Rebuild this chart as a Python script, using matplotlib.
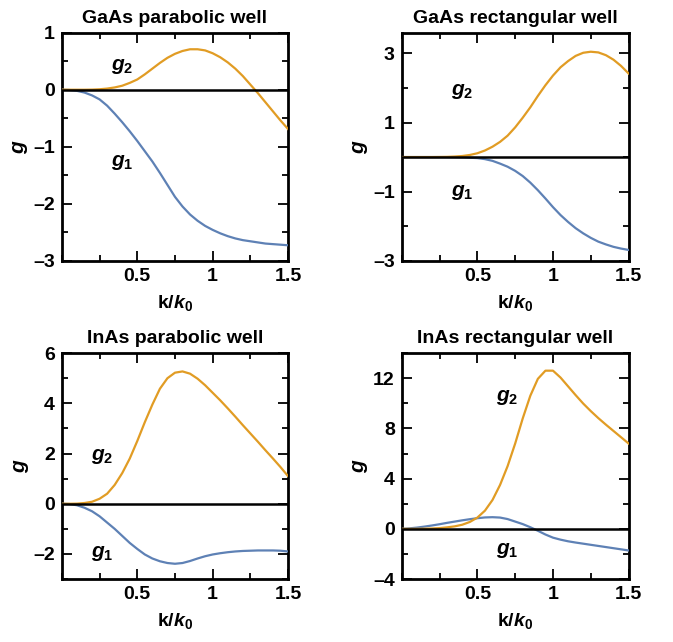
import matplotlib
matplotlib.use('Agg')
import matplotlib.pyplot as plt
from matplotlib.ticker import MultipleLocator, FixedLocator

plt.rcParams['font.family'] = ['Liberation Sans', 'DejaVu Sans']
plt.rcParams['font.weight'] = 'bold'
plt.rcParams['axes.labelweight'] = 'bold'
plt.rcParams['mathtext.fontset'] = 'custom'
plt.rcParams['mathtext.rm'] = 'Liberation Sans:bold'
plt.rcParams['mathtext.it'] = 'Liberation Sans:italic:bold'
plt.rcParams['mathtext.bf'] = 'Liberation Sans:bold'

BLUE = '#5E81B5'
ORANGE = '#E19C24'

k = [0, .05, .1, .15, .2, .25, .3, .35, .4, .45, .5, .55, .6, .65, .7, .75,
     .8, .85, .9, .95, 1, 1.05, 1.1, 1.15, 1.2, 1.25, 1.3, 1.35, 1.4, 1.45, 1.5]

# GaAs parabolic well
gaas_par_g1 = [0, -0.005, -0.02, -0.05, -0.1, -0.17, -0.28, -0.42, -0.57, -0.73, -0.9,
               -1.08, -1.26, -1.46, -1.67, -1.88, -2.05, -2.19, -2.3, -2.39, -2.46, -2.52,
               -2.57, -2.61, -2.64, -2.66, -2.68, -2.7, -2.71, -2.72, -2.73]
gaas_par_g2 = [0, 0, 0, 0, 0.002, 0.008, 0.02, 0.04, 0.07, 0.12, 0.18, 0.27, 0.37, 0.47,
               0.56, 0.63, 0.68, 0.71, 0.71, 0.69, 0.64, 0.57, 0.48, 0.37, 0.24, 0.09,
               -0.06, -0.22, -0.38, -0.54, -0.69]

# GaAs rectangular well
gaas_rect_g1 = [0, 0, 0, 0, 0, 0, -0.002, -0.005, -0.01, -0.02, -0.03, -0.06, -0.11,
                -0.19, -0.28, -0.4, -0.55, -0.74, -0.96, -1.2, -1.45, -1.68, -1.88, -2.06,
                -2.21, -2.34, -2.45, -2.53, -2.6, -2.65, -2.69]
gaas_rect_g2 = [0, 0, 0, 0, 0, 0.002, 0.006, 0.015, 0.03, 0.06, 0.11, 0.19, 0.3, 0.44,
                0.62, 0.86, 1.14, 1.44, 1.77, 2.08, 2.36, 2.6, 2.78, 2.93, 3.02, 3.05,
                3.03, 2.95, 2.82, 2.64, 2.42]

# InAs parabolic well
inas_par_g1 = [0, -0.01, -0.06, -0.16, -0.3, -0.5, -0.75, -1.0, -1.28, -1.56, -1.8,
               -2.02, -2.18, -2.29, -2.36, -2.39, -2.36, -2.28, -2.18, -2.09, -2.02,
               -1.97, -1.93, -1.9, -1.88, -1.87, -1.86, -1.86, -1.86, -1.87, -1.9]
inas_par_g2 = [0, 0, 0.005, 0.03, 0.08, 0.2, 0.4, 0.75, 1.22, 1.8, 2.5, 3.25, 3.95, 4.58,
               5.0, 5.22, 5.27, 5.18, 4.98, 4.72, 4.42, 4.12, 3.8, 3.47, 3.13, 2.8,
               2.47, 2.13, 1.8, 1.46, 1.1]

# InAs rectangular well
inas_rect_g1 = [0, 0.04, 0.1, 0.18, 0.27, 0.37, 0.48, 0.58, 0.68, 0.77, 0.85, 0.91, 0.93,
                0.9, 0.78, 0.58, 0.38, 0.13, -0.15, -0.45, -0.7, -0.86, -0.99, -1.09,
                -1.18, -1.27, -1.36, -1.45, -1.54, -1.63, -1.72]
inas_rect_g2 = [0, 0, 0, 0.01, 0.03, 0.06, 0.12, 0.2, 0.33, 0.55, 0.9, 1.45, 2.3, 3.5,
                5.0, 6.8, 8.8, 10.6, 11.95, 12.6, 12.6, 12.05, 11.35, 10.65, 9.98,
                9.38, 8.82, 8.3, 7.8, 7.3, 6.8]

panels = [
    dict(title='GaAs parabolic well', g1=gaas_par_g1, g2=gaas_par_g2,
         ylim=(-3, 1), major=[-3, -2, -1, 0, 1], minor=0.5,
         g2_pos=(0.4, 0.4), g1_pos=(0.4, -1.28)),
    dict(title='GaAs rectangular well', g1=gaas_rect_g1, g2=gaas_rect_g2,
         ylim=(-3, 3.6), major=[-3, -1, 1, 3], minor=1,
         g2_pos=(0.4, 1.9), g1_pos=(0.4, -1.03)),
    dict(title='InAs parabolic well', g1=inas_par_g1, g2=inas_par_g2,
         ylim=(-3, 6), major=[-2, 0, 2, 4, 6], minor=1,
         g2_pos=(0.27, 1.9), g1_pos=(0.27, -2.0)),
    dict(title='InAs rectangular well', g1=inas_rect_g1, g2=inas_rect_g2,
         ylim=(-4, 14), major=[-4, 0, 4, 8, 12], minor=2,
         g2_pos=(0.7, 10.5), g1_pos=(0.7, -1.7)),
]

boxes = [
    [0.092, 0.594, 0.336, 0.355],
    [0.597, 0.594, 0.337, 0.355],
    [0.092, 0.098, 0.336, 0.352],
    [0.597, 0.098, 0.337, 0.352],
]

fig = plt.figure(figsize=(6.73, 6.42), dpi=100)

for p, box in zip(panels, boxes):
    ax = fig.add_axes(box)
    ax.plot(k, p['g1'], color=BLUE, lw=1.6, zorder=3)
    ax.plot(k, p['g2'], color=ORANGE, lw=1.6, zorder=3)
    ax.axhline(0, color='black', lw=1.8, zorder=4)
    ax.set_xlim(0, 1.5)
    ax.set_ylim(*p['ylim'])
    ax.xaxis.set_major_locator(FixedLocator([0.5, 1, 1.5]))
    ax.xaxis.set_minor_locator(MultipleLocator(0.25))
    ax.set_xticklabels(['0.5', '1', '1.5'])
    ax.yaxis.set_major_locator(FixedLocator(p['major']))
    ax.yaxis.set_minor_locator(MultipleLocator(p['minor']))
    ax.set_yticklabels([str(v).replace('-', '\u2013') for v in p['major']])
    ax.tick_params(which='both', direction='in', top=True, right=True,
                   width=1.3, labelsize=14, pad=5)
    ax.tick_params(which='major', length=7)
    ax.tick_params(which='minor', length=4)
    for s in ax.spines.values():
        s.set_linewidth(2)
    ax.set_title(p['title'], fontsize=14, fontweight='bold', pad=7)
    ax.set_ylabel('$g$', fontsize=15, labelpad=2)
    ax.set_xlabel('k/$k_0$', fontsize=14, labelpad=6)
    ax.text(*p['g2_pos'], '$g_2$', fontsize=15, ha='center', va='center')
    ax.text(*p['g1_pos'], '$g_1$', fontsize=15, ha='center', va='center')

fig.savefig('out.png', dpi=100)
